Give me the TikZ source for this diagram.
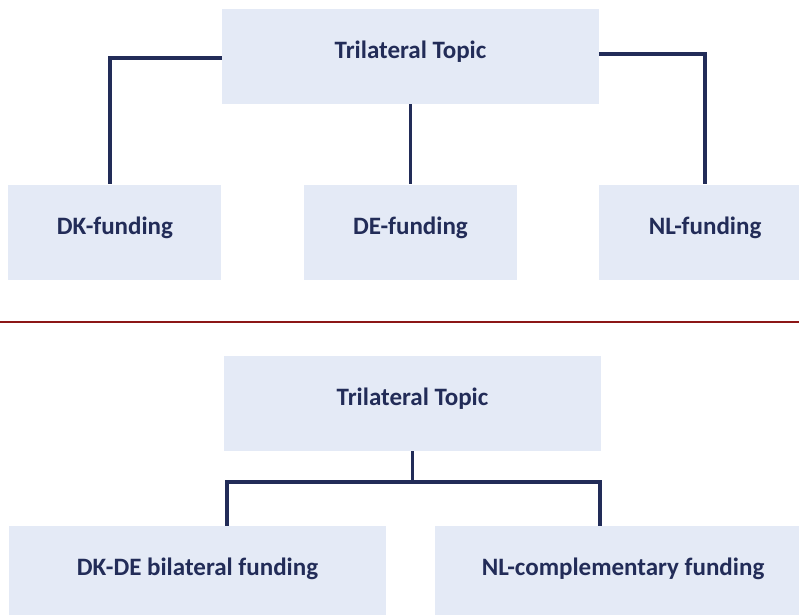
\documentclass[tikz,border=0pt]{standalone}
\usepackage{fontspec}
\setmainfont{Carlito}
\usepackage{tikz}
\usetikzlibrary{positioning}
\definecolor{boxfill}{RGB}{228,234,246}
\definecolor{navy}{RGB}{34,44,88}
\definecolor{darkred}{RGB}{140,22,22}
\tikzset{
block/.style={
  rectangle, 
  fill=boxfill, 
  text=navy, 
  font=\fontsize{17.8}{21}\selectfont\bfseries, 
  inner sep=0pt, 
  text height=0.45cm, 
  text depth=0.35cm, 
  minimum height=2.375cm, 
  minimum width=5.325cm, align=center
  }, 
wide/.style={minimum width=9.425cm}, 
line/.style={draw=navy, line width=2.8pt}
}
\begin{document}
\begin{tikzpicture}
\useasboundingbox (0,0) rectangle (19.975,-15.35);

\node[block, wide]	(trilat)		at (10.2625,-1.4125)							{Trilateral Topic};
\node[block]		(defund)		[below=2cm of trilat]							{DE-funding};
\node[block]		(dkfund)		[left=2.05cm of defund]							{DK-funding};
\node[block]		(nlfund)		[right=2.025cm of defund]						{NL-funding};

\coordinate		(sepl)		at (0,-8.05);
\coordinate		(sepr)		at (19.975,-8.05);

\node[block, wide]	(trilatb)		at (10.3125,-10.0875)						{Trilateral Topic};
\node[block, wide]	(dkde)		at (4.9375,-14.3375)							{DK-DE bilateral funding};
\node[block, wide]	(nlcompl)		[right=1.2cm of dkde]						{NL-complementary funding};

\draw[line] 	([yshift=-0.0375cm]trilat.west) 	-| 	([xshift=-0.1125cm]dkfund.north);
\draw[line]	(trilat.south) 			--	(defund.north);
\draw[line] 	([yshift=0.0625cm]trilat.east) 	-|	(nlfund.north);
\draw[darkred, line width=2pt] 	(sepl) 	-- 	(sepr);
\draw[line] 	(trilatb.south)			--	++(0,-0.775) coordinate (fork);
\draw[line] 	([xshift=0.7375cm]dkde.north) 	|- 	(fork) 	-| 	([xshift=-0.5875cm]nlcompl.north);
\end{tikzpicture}
\end{document}
